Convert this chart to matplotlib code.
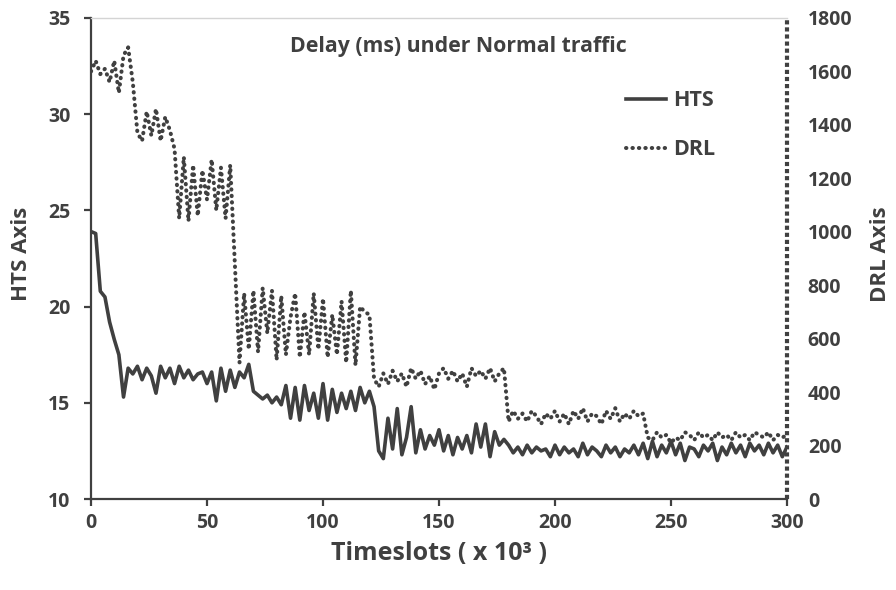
import numpy as np
import matplotlib.pyplot as plt
from matplotlib.lines import Line2D

# ---------------------------
# data (every 2 timeslots, x 10^3)
# ---------------------------
timeslots = np.arange(0, 301, 2)

hts_delay = [
    23.9, 23.8, 20.8, 20.5, 19.2, 18.3, 17.5, 15.3, 16.8, 16.5,
    16.9, 16.2, 16.8, 16.4, 15.5, 16.9, 16.3, 16.8, 16.0, 16.9,
    16.3, 16.7, 16.2, 16.5, 16.6, 16.0, 16.6, 15.1, 16.8, 15.6,
    16.7, 15.8, 16.6, 16.3, 17.0, 15.6, 15.4, 15.2, 15.4, 15.0,
    15.3, 14.9, 15.9, 14.2, 15.8, 14.1, 15.9, 14.6, 15.5, 14.2,
    16.0, 14.1, 15.7, 14.5, 15.5, 14.7, 15.6, 14.6, 15.8, 15.0,
    15.6, 14.8, 12.5, 12.1, 14.2, 12.6, 14.7, 12.3, 13.2, 14.8,
    12.4, 13.6, 12.6, 13.3, 12.8, 13.6, 12.5, 13.3, 12.3, 13.2,
    12.6, 13.3, 12.4, 13.9, 12.7, 13.9, 12.2, 13.5, 12.8, 13.1,
    12.8, 12.4, 12.7, 12.3, 12.8, 12.4, 12.7, 12.5, 12.6, 12.2,
    12.8, 12.3, 12.7, 12.4, 12.6, 12.2, 12.9, 12.3, 12.7, 12.5,
    12.2, 12.8, 12.4, 12.7, 12.2, 12.6, 12.4, 12.8, 12.3, 12.9,
    12.1, 13.0, 12.2, 12.8, 12.4, 13.0, 12.3, 12.9, 12.0, 12.7,
    12.6, 12.2, 12.8, 12.5, 12.9, 12.0, 12.7, 12.3, 12.9, 12.4,
    12.8, 12.2, 12.9, 12.5, 12.8, 12.3, 12.9, 12.4, 12.8, 12.2,
    12.7,
]

drl_delay = [
    1600, 1640, 1590, 1610, 1560, 1640, 1520, 1660, 1690, 1560,
    1370, 1340, 1450, 1360, 1460, 1340, 1430, 1380, 1310, 1050,
    1280, 1040, 1250, 1060, 1230, 1120, 1270, 1080, 1240, 1050,
    1250, 880, 510, 770, 560, 780, 550, 790, 620, 780,
    520, 760, 540, 680, 770, 530, 700, 540, 770, 560,
    750, 530, 690, 540, 740, 510, 780, 500, 720, 700,
    690, 450, 420, 470, 430, 480, 440, 470, 420, 490,
    450, 480, 430, 460, 410, 470, 490, 450, 480, 440,
    470, 420, 490, 460, 480, 450, 490, 440, 470, 490,
    290, 330, 300, 320, 290, 330, 310, 280, 320, 300,
    330, 290, 320, 280, 330, 300, 340, 290, 320, 310,
    280, 330, 300, 340, 290, 320, 300, 330, 310, 320,
    230, 220, 250, 230, 240, 210, 230, 220, 250, 240,
    220, 250, 230, 240, 220, 250, 230, 240, 220, 250,
    230, 240, 220, 250, 240, 230, 250, 220, 240, 230,
    240,
]

hts_ticks = [10, 15, 20, 25, 30, 35]
drl_ticks = [0, 200, 400, 600, 800, 1000, 1200, 1400, 1600, 1800]
x_ticks = [0, 50, 100, 150, 200, 250, 300]

# ---------------------------
# style
# ---------------------------
ink = '#404040'
dots = (0, (0.1, 1.5))
plt.rcParams['font.family'] = ['Open Sans', 'DejaVu Sans']
plt.rcParams['font.weight'] = 'bold'

fig = plt.figure(figsize=(8.96, 5.90), dpi=100)
ax = fig.add_axes([0.1016, 0.1542, 0.7767, 0.8153])
ax2 = ax.twinx()

ax.plot(timeslots, hts_delay, color=ink, lw=2.6, solid_joinstyle='round')
ax2.plot(timeslots, drl_delay, color=ink, lw=2.9, linestyle=dots,
         dash_capstyle='round')

ax.set_xlim(0, 300)
ax.set_ylim(10, 35)
ax2.set_ylim(0, 1800)
ax.set_xticks(x_ticks)
ax.set_yticks(hts_ticks)
ax2.set_yticks(drl_ticks)

for a in (ax, ax2):
    for s in a.spines.values():
        s.set_color(ink)
        s.set_linewidth(1.6)
ax.spines['top'].set_color('#d4d4d4')
ax.spines['top'].set_linewidth(1.0)
ax2.spines['top'].set_visible(False)
ax.spines['right'].set_visible(False)
ax2.spines['left'].set_visible(False)
ax2.spines['bottom'].set_visible(False)
ax2.spines['right'].set_visible(False)
# right axis line is drawn dotted in the original
ax2.add_line(Line2D([1, 1], [0, 1], transform=ax2.transAxes, clip_on=False,
                    color=ink, lw=3.0, linestyle=(0, (1.0, 0.7)),
                    dash_capstyle='butt'))

ax.tick_params(axis='both', direction='out', length=5, width=1.6,
               color=ink, labelcolor=ink, labelsize=14)
ax.tick_params(axis='y', pad=10)
ax.tick_params(axis='x', pad=5)
ax2.tick_params(axis='y', length=0, labelcolor=ink, labelsize=14, pad=15)
for lab in ax.get_xticklabels() + ax.get_yticklabels() + ax2.get_yticklabels():
    lab.set_fontweight('bold')

ax.set_ylabel('HTS Axis', fontsize=16, fontweight='bold', color=ink)
ax.yaxis.set_label_coords(-0.085, 0.51)
ax2.set_ylabel('DRL Axis', fontsize=16, fontweight='bold', color=ink,
               rotation=90, va='center')
ax2.yaxis.set_label_coords(1.135, 0.51)
ax.set_xlabel('Timeslots ( x 10³ )', fontsize=18, fontweight='bold', color=ink,
              labelpad=6)

fig.text(0.512, 0.921, 'Delay (ms) under Normal traffic', ha='center', va='center',
         fontsize=15.3, fontweight='bold', color=ink)

handles = [
    Line2D([], [], color=ink, lw=2.6),
    Line2D([], [], color=ink, lw=2.9, linestyle=dots, dash_capstyle='round'),
]
leg = fig.legend(handles, ['HTS', 'DRL'], loc='upper left',
                 bbox_to_anchor=(0.677, 0.88), frameon=False, fontsize=15.5,
                 handlelength=1.85, handletextpad=0.35, labelspacing=1.3)
for t in leg.get_texts():
    t.set_color(ink)
    t.set_fontweight('bold')

fig.savefig('out.png', dpi=100)
